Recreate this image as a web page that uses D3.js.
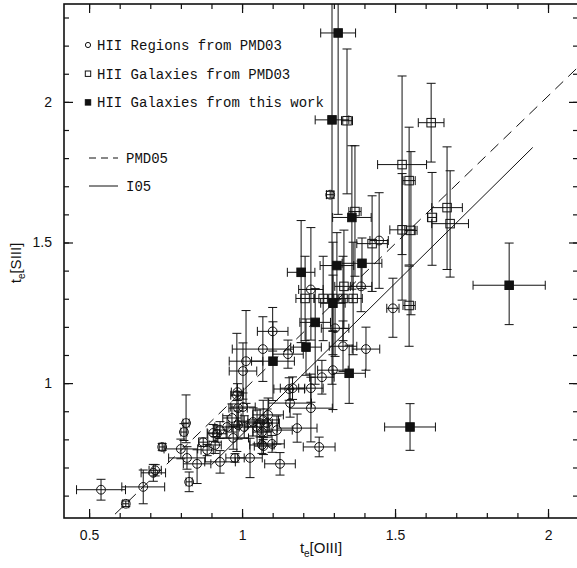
<!DOCTYPE html>
<html>
<head>
<meta charset="utf-8">
<script src="https://cdn.jsdelivr.net/npm/d3@7"></script>
<style>
  body { margin: 0; background: #fff; }
  svg { display: block; }
</style>
</head>
<body>
<svg id="chart" width="577" height="568"></svg>
<script>
// Each row: [t_e[OIII], t_e[SIII], error in t_e[OIII], lower error in t_e[SIII], upper error in t_e[SIII]]
const hiiRegionsPMD03 = [
  [0.539, 0.621, 0.080, 0.037, 0.037],
  [0.620, 0.571, 0.010, 0.010, 0.010],
  [0.677, 0.631, 0.070, 0.060, 0.060],
  [0.710, 0.681, 0.040, 0.030, 0.030],
  [0.716, 0.690, 0.020, 0.020, 0.020],
  [0.739, 0.773, 0.010, 0.012, 0.012],
  [0.800, 0.766, 0.055, 0.035, 0.035],
  [0.810, 0.826, 0.010, 0.030, 0.030],
  [0.817, 0.858, 0.010, 0.070, 0.100],
  [0.820, 0.734, 0.060, 0.040, 0.040],
  [0.827, 0.649, 0.010, 0.035, 0.035],
  [0.853, 0.713, 0.045, 0.070, 0.050],
  [0.873, 0.790, 0.015, 0.015, 0.015],
  [0.886, 0.762, 0.020, 0.020, 0.020],
  [0.906, 0.823, 0.020, 0.030, 0.030],
  [0.918, 0.820, 0.030, 0.030, 0.030],
  [0.928, 0.720, 0.050, 0.040, 0.040],
  [0.928, 0.833, 0.020, 0.030, 0.030],
  [0.912, 0.780, 0.020, 0.030, 0.030],
  [0.951, 0.844, 0.040, 0.040, 0.040],
  [0.967, 0.876, 0.030, 0.050, 0.050],
  [0.971, 0.805, 0.050, 0.040, 0.040],
  [0.977, 0.734, 0.030, 0.015, 0.015],
  [0.983, 0.957, 0.020, 0.200, 0.220],
  [0.985, 0.968, 0.020, 0.030, 0.030],
  [0.987, 0.911, 0.030, 0.060, 0.060],
  [1.003, 0.915, 0.040, 0.050, 0.050],
  [0.987, 0.851, 0.030, 0.050, 0.050],
  [1.007, 0.844, 0.040, 0.040, 0.040],
  [1.026, 0.734, 0.040, 0.070, 0.070],
  [1.036, 0.862, 0.050, 0.050, 0.050],
  [1.049, 0.844, 0.040, 0.060, 0.060],
  [1.059, 0.858, 0.040, 0.050, 0.050],
  [1.069, 0.869, 0.050, 0.070, 0.070],
  [1.082, 0.858, 0.040, 0.050, 0.050],
  [1.085, 0.887, 0.050, 0.060, 0.060],
  [1.065, 0.780, 0.040, 0.030, 0.030],
  [1.070, 0.776, 0.030, 0.030, 0.030],
  [1.098, 0.784, 0.040, 0.030, 0.030],
  [1.065, 0.826, 0.030, 0.040, 0.040],
  [1.114, 0.833, 0.050, 0.050, 0.050],
  [1.157, 0.929, 0.070, 0.050, 0.050],
  [1.180, 0.840, 0.065, 0.050, 0.050],
  [1.225, 0.911, 0.070, 0.120, 0.110],
  [1.252, 0.773, 0.052, 0.035, 0.035],
  [1.124, 0.713, 0.050, 0.040, 0.040],
  [1.003, 1.043, 0.045, 0.100, 0.100],
  [1.013, 1.078, 0.055, 0.150, 0.180],
  [1.068, 1.121, 0.100, 0.115, 0.115],
  [1.100, 1.184, 0.050, 0.070, 0.085],
  [1.150, 1.103, 0.050, 0.050, 0.050],
  [1.154, 0.979, 0.050, 0.040, 0.040],
  [1.165, 0.982, 0.040, 0.040, 0.040],
  [1.225, 0.982, 0.040, 0.050, 0.050],
  [1.261, 1.021, 0.040, 0.060, 0.060],
  [1.297, 1.046, 0.050, 0.140, 0.140],
  [1.304, 1.195, 0.045, 0.100, 0.100],
  [1.330, 1.131, 0.045, 0.090, 0.090],
  [1.405, 1.121, 0.045, 0.075, 0.078],
  [1.225, 1.333, 0.040, 0.180, 0.220],
  [1.389, 1.344, 0.035, 0.090, 0.090],
  [1.448, 1.507, 0.030, 0.170, 0.170],
  [1.493, 1.266, 0.020, 0.103, 0.107],
  [1.288, 1.670, 0.012, 0.012, 0.012]
];

const hiiGalaxiesPMD03 = [
  [1.343, 1.933, 0.018, 0.260, 0.255],
  [1.618, 1.926, 0.042, 0.140, 0.140],
  [1.523, 1.777, 0.080, 0.320, 0.315],
  [1.546, 1.720, 0.020, 0.300, 0.190],
  [1.369, 1.610, 0.020, 0.230, 0.234],
  [1.670, 1.624, 0.050, 0.220, 0.216],
  [1.680, 1.567, 0.060, 0.190, 0.188],
  [1.621, 1.589, 0.015, 0.170, 0.160],
  [1.523, 1.545, 0.040, 0.250, 0.200],
  [1.552, 1.543, 0.020, 0.300, 0.280],
  [1.425, 1.496, 0.050, 0.170, 0.170],
  [1.206, 1.301, 0.030, 0.150, 0.150],
  [1.265, 1.301, 0.030, 0.150, 0.150],
  [1.297, 1.301, 0.030, 0.200, 0.200],
  [1.330, 1.301, 0.030, 0.150, 0.150],
  [1.363, 1.301, 0.030, 0.200, 0.200],
  [1.333, 1.344, 0.030, 0.150, 0.200],
  [1.546, 1.276, 0.020, 0.145, 0.140]
];

const hiiGalaxiesThisWork = [
  [1.314, 2.245, 0.057, 0.645, 0.650],
  [1.294, 1.936, 0.055, 0.940, 0.940],
  [1.359, 1.589, 0.063, 0.255, 0.255],
  [1.193, 1.394, 0.045, 0.250, 0.184],
  [1.310, 1.418, 0.055, 0.120, 0.117],
  [1.392, 1.426, 0.065, 0.090, 0.090],
  [1.297, 1.284, 0.040, 0.100, 0.100],
  [1.239, 1.216, 0.050, 0.220, 0.120],
  [1.209, 1.128, 0.050, 0.100, 0.100],
  [1.101, 1.078, 0.070, 0.140, 0.140],
  [1.350, 1.035, 0.053, 0.107, 0.100],
  [1.549, 0.844, 0.083, 0.083, 0.083],
  [1.873, 1.348, 0.118, 0.140, 0.150]
];

// Empirical relations, given by their end points
const pmd05X = [0.50, 2.15];
const pmd05Y = [0.445, 2.178];
const i05X = [0.90, 1.95];
const i05Y = [0.710, 1.838];

const xTickLabels = [0.5, 1, 1.5, 2];
const yTickLabels = [1, 1.5, 2];

const legendItems = [
  { symbol: "circle", text: "HII Regions from PMD03" },
  { symbol: "square", text: "HII Galaxies from PMD03" },
  { symbol: "filled", text: "HII Galaxies from this work" }
];
const lineLegendItems = [
  { dash: "7,5", text: "PMD05" },
  { dash: null, text: "I05" }
];

(function draw() {
  const svg = d3.select("#chart");
  const pL = 64, pR = 578, pT = 4, pB = 518;

  const x = d3.scaleLinear().domain([0.418, 2.098]).range([pL, pR]);
  const y = d3.scaleLinear().domain([0.5204, 2.348]).range([pB, pT]);

  svg.append("defs").append("clipPath").attr("id", "plotArea")
    .append("rect").attr("x", pL).attr("y", pT)
    .attr("width", pR - pL).attr("height", pB - pT);

  const ink = "#111";

  // axes: major ticks carry labels, minor ticks every 0.1
  const xMinor = x.ticks(17);
  const yMinor = y.ticks(18);

  function styleAxis(g) {
    g.select(".domain").remove();
    g.selectAll(".tick line").attr("stroke", ink).attr("stroke-width", 1.2);
    g.selectAll(".tick text")
      .attr("fill", ink)
      .style("font-family", "'Liberation Sans', Arial, sans-serif")
      .style("font-size", "14px");
  }

  svg.append("g").attr("transform", `translate(0,${pB})`)
    .call(d3.axisBottom(x).tickValues(xTickLabels).tickSize(-9).tickPadding(12).tickFormat(d3.format("")))
    .call(styleAxis);
  svg.append("g").attr("transform", `translate(0,${pB})`)
    .call(d3.axisBottom(x).tickValues(xMinor).tickSize(-5).tickFormat(""))
    .call(styleAxis);
  svg.append("g").attr("transform", `translate(0,${pT})`)
    .call(d3.axisTop(x).tickValues(xTickLabels).tickSize(-9).tickFormat(""))
    .call(styleAxis);
  svg.append("g").attr("transform", `translate(0,${pT})`)
    .call(d3.axisTop(x).tickValues(xMinor).tickSize(-5).tickFormat(""))
    .call(styleAxis);

  svg.append("g").attr("transform", `translate(${pL},0)`)
    .call(d3.axisLeft(y).tickValues(yTickLabels).tickSize(-9).tickPadding(12).tickFormat(d3.format("")))
    .call(styleAxis);
  svg.append("g").attr("transform", `translate(${pL},0)`)
    .call(d3.axisLeft(y).tickValues(yMinor).tickSize(-5).tickFormat(""))
    .call(styleAxis);
  svg.append("g").attr("transform", `translate(${pR},0)`)
    .call(d3.axisRight(y).tickValues(yTickLabels).tickSize(-9).tickFormat(""))
    .call(styleAxis);
  svg.append("g").attr("transform", `translate(${pR},0)`)
    .call(d3.axisRight(y).tickValues(yMinor).tickSize(-5).tickFormat(""))
    .call(styleAxis);

  // frame
  svg.append("rect")
    .attr("x", pL).attr("y", pT)
    .attr("width", pR - pL).attr("height", pB - pT)
    .attr("fill", "none").attr("stroke", ink).attr("stroke-width", 1.6);

  const plot = svg.append("g").attr("clip-path", "url(#plotArea)");

  // relations
  const path = d3.line().x(d => x(d[0])).y(d => y(d[1]));
  plot.append("path")
    .attr("d", path(d3.zip(pmd05X, pmd05Y)))
    .attr("fill", "none").attr("stroke", ink).attr("stroke-width", 1)
    .attr("stroke-dasharray", "11,7");
  plot.append("path")
    .attr("d", path(d3.zip(i05X, i05Y)))
    .attr("fill", "none").attr("stroke", ink).attr("stroke-width", 1);

  // error bars
  const cap = 4.5;
  function errorBars(data) {
    const g = plot.append("g").attr("stroke", ink).attr("stroke-width", 1).attr("fill", "none");
    data.forEach(d => {
      const cx = x(d[0]), cy = y(d[1]);
      const x0 = x(d[0] - d[2]), x1 = x(d[0] + d[2]);
      const y0 = y(d[1] - d[3]), y1 = y(d[1] + d[4]);
      const p = d3.path();
      p.moveTo(x0, cy); p.lineTo(x1, cy);
      p.moveTo(x0, cy - cap); p.lineTo(x0, cy + cap);
      p.moveTo(x1, cy - cap); p.lineTo(x1, cy + cap);
      p.moveTo(cx, y0); p.lineTo(cx, y1);
      p.moveTo(cx - cap, y0); p.lineTo(cx + cap, y0);
      p.moveTo(cx - cap, y1); p.lineTo(cx + cap, y1);
      g.append("path").attr("d", p.toString());
    });
  }
  errorBars(hiiRegionsPMD03);
  errorBars(hiiGalaxiesPMD03);
  errorBars(hiiGalaxiesThisWork);

  // markers
  const side = 8.5;
  plot.append("g").selectAll("circle").data(hiiRegionsPMD03).join("circle")
    .attr("cx", d => x(d[0])).attr("cy", d => y(d[1])).attr("r", 4.4)
    .attr("fill", "none").attr("stroke", ink).attr("stroke-width", 1);
  plot.append("g").selectAll("rect").data(hiiGalaxiesPMD03).join("rect")
    .attr("x", d => x(d[0]) - side / 2).attr("y", d => y(d[1]) - side / 2)
    .attr("width", side).attr("height", side)
    .attr("fill", "none").attr("stroke", ink).attr("stroke-width", 1);
  plot.append("g").selectAll("rect").data(hiiGalaxiesThisWork).join("rect")
    .attr("x", d => x(d[0]) - side / 2).attr("y", d => y(d[1]) - side / 2)
    .attr("width", side).attr("height", side)
    .attr("fill", ink).attr("stroke", ink).attr("stroke-width", 1);

  // legend
  const legendFont = "'Liberation Mono', 'DejaVu Sans Mono', monospace";
  const legend = svg.append("g");
  legendItems.forEach((item, i) => {
    const ly = 45 + i * 28.7;
    if (item.symbol === "circle") {
      legend.append("circle").attr("cx", 88).attr("cy", ly).attr("r", 2.6)
        .attr("fill", "none").attr("stroke", ink).attr("stroke-width", 1);
    } else {
      legend.append("rect").attr("x", 85.3).attr("y", ly - 2.7).attr("width", 5.4).attr("height", 5.4)
        .attr("fill", item.symbol === "filled" ? ink : "none").attr("stroke", ink).attr("stroke-width", 1);
    }
    legend.append("text").attr("x", 97).attr("y", ly + 5)
      .style("font-family", legendFont).style("font-size", "14px").attr("fill", ink)
      .text(item.text);
  });
  lineLegendItems.forEach((item, i) => {
    const ly = 158 + i * 28;
    legend.append("line").attr("x1", 89).attr("x2", 118).attr("y1", ly).attr("y2", ly)
      .attr("stroke", ink).attr("stroke-width", 1)
      .attr("stroke-dasharray", item.dash);
    legend.append("text").attr("x", 126).attr("y", ly + 5)
      .style("font-family", legendFont).style("font-size", "14px").attr("fill", ink)
      .text(item.text);
  });

  // axis titles
  const titleFont = "'Liberation Sans', Arial, sans-serif";
  function axisTitle(g, label) {
    g.style("font-family", titleFont).style("font-size", "15px").attr("fill", ink).attr("text-anchor", "middle");
    g.append("tspan").text("t");
    g.append("tspan").attr("dy", 4).style("font-size", "10px").text("e");
    g.append("tspan").attr("dy", -4).text(label);
  }
  svg.append("text").attr("x", 321).attr("y", 553).call(axisTitle, "[OIII]");
  svg.append("text").attr("transform", "translate(21,263) rotate(-90)").call(axisTitle, "[SIII]");
})();
</script>
</body>
</html>
